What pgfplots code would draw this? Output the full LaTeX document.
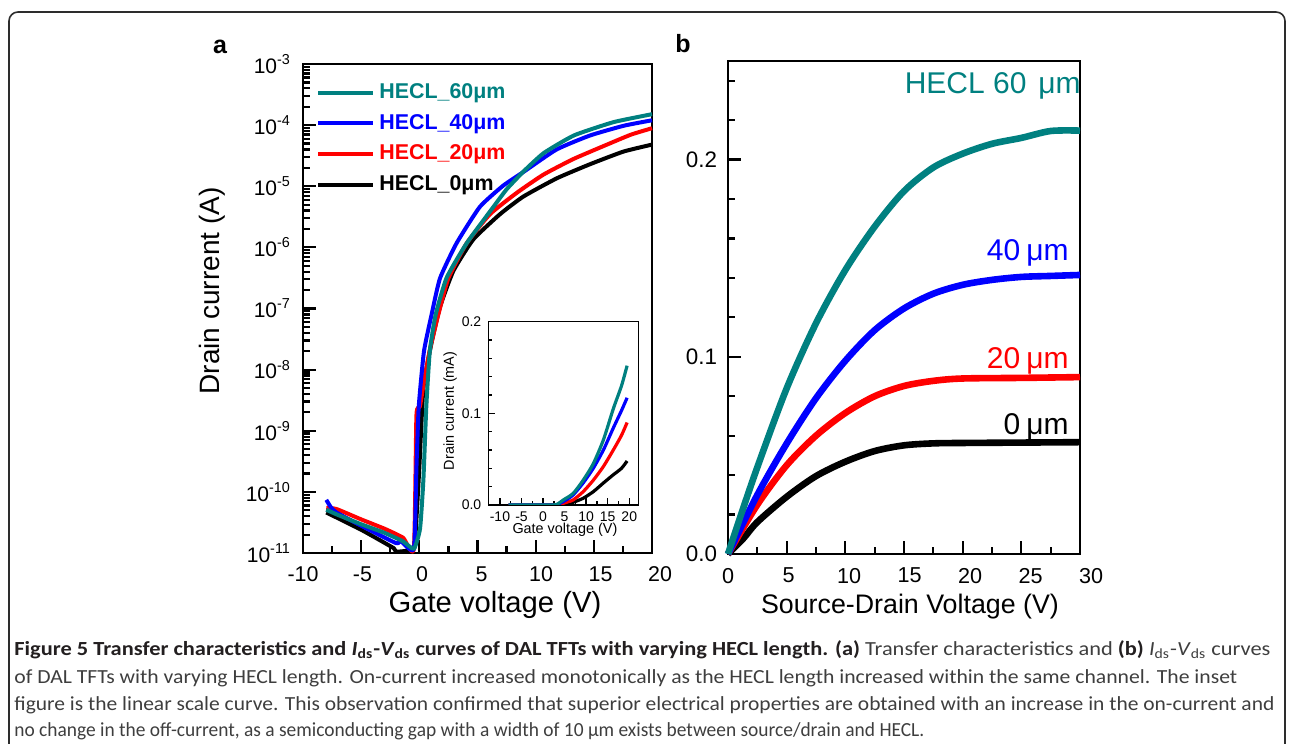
\documentclass[border=0pt]{standalone}
\usepackage{pgfplots}
\pgfplotsset{compat=1.18}
\usepackage{pgfplotstable}
\usepackage{graphicx}
\usepackage{fontspec}
\setmainfont{Liberation Sans}
\newfontfamily\capfont{Carlito}
\definecolor{hteal}{RGB}{0,128,128}
\definecolor{hblue}{RGB}{0,0,255}
\definecolor{hred}{RGB}{255,0,0}
\definecolor{capbold}{RGB}{35,31,32}
\definecolor{captext}{RGB}{62,62,62}
\definecolor{framecol}{RGB}{45,45,45}

% ---------- panel a (log) ----------
\pgfplotstableread{
x y
-8.0 5.1e-11
-7.0 4.2e-11
-5.0 2.95e-11
-3.0 2.14e-11
-1.4 1.55e-11
-0.47 1.17e-11
0.06 2.5e-11
0.35 1.6e-10
0.6 2.5e-9
0.9 2.0e-8
1.4 7.9e-8
2.35 3.2e-7
4.07 1.17e-6
6.37 4.6e-6
7.5 8.9e-6
9.0 1.78e-5
10.7 3.5e-5
13.3 6.8e-5
16.7 1.12e-4
20.0 1.51e-4
}\aTeal
\pgfplotstableread{
x y
-8.0 7.4e-11
-7.6 5.6e-11
-7.13 4.6e-11
-5.0 2.8e-11
-2.0 1.45e-11
-1.6 1.58e-11
-0.47 1.17e-11
-0.25 2.5e-10
-0.05 2.5e-9
0.4 2.0e-8
1.05 7.9e-8
1.77 3.1e-7
3.2 1.17e-6
5.2 4.6e-6
7.2 1.02e-5
9.0 1.74e-5
11.8 4.0e-5
14.7 6.8e-5
17.6 9.8e-5
20.0 1.2e-4
}\aBlue
\pgfplotstableread{
x y
-8.0 5.5e-11
-7.13 5.25e-11
-5.0 3.55e-11
-3.0 2.5e-11
-1.4 1.78e-11
-0.47 1.17e-11
-0.25 1.78e-9
0.05 2.5e-9
0.4 6.3e-9
0.9 2.1e-8
1.63 7.9e-8
2.49 3.1e-7
4.07 1.17e-6
6.08 3.5e-6
8.37 7.8e-6
10.67 1.55e-5
13.26 2.8e-5
16.13 4.8e-5
18.2 7.0e-5
20.0 8.9e-5
}\aRed
\pgfplotstableread{
x y
-8.0 4.6e-11
-5.0 2.4e-11
-2.2 1.2e-11
-2.0 1.05e-11
-0.47 1.17e-11
-0.3 2.5e-11
0.0 2.5e-10
0.35 5.0e-9
1.05 2.75e-8
1.77 1.05e-7
2.92 4.1e-7
4.64 1.35e-6
6.94 3.5e-6
8.95 6.8e-6
11.82 1.35e-5
14.69 2.3e-5
17.56 3.7e-5
20.0 4.8e-5
}\aBlack

% ---------- inset (linear, mA) ----------
\pgfplotstableread{
x y
-8 0
2 0
3.5 0.0015
4.7 0.0055
7.0 0.0127
9.3 0.027
11.65 0.045
14.0 0.071
16.3 0.105
18.2 0.13
19.5 0.152
}\iTeal
\pgfplotstableread{
x y
-8 0
2.5 0
4 0.002
5.5 0.006
7.0 0.011
9.3 0.024
11.65 0.04
14.0 0.06
16.3 0.084
18.2 0.103
19.5 0.117
}\iBlue
\pgfplotstableread{
x y
-8 0
3 0
4.5 0.0015
5.8 0.0035
7.0 0.0055
9.3 0.0145
11.65 0.027
14.0 0.042
16.3 0.06
18.2 0.076
19.5 0.09
}\iRed
\pgfplotstableread{
x y
-8 0
4 0
5.5 0.001
7.0 0.003
9.3 0.0073
11.65 0.0145
14.0 0.024
16.3 0.033
18.2 0.04
19.5 0.048
}\iBlack

% ---------- panel b ----------
\pgfplotstableread{
x y
0 0
1 0.018
2.5 0.044
5 0.084
7.5 0.117
10 0.144
12.5 0.166
15 0.184
17.5 0.196
20 0.203
22.5 0.208
25 0.211
27.5 0.2145
30 0.2147
}\bTeal
\pgfplotstableread{
x y
0 0
2.5 0.030
5 0.056
7.5 0.079
10 0.098
12.5 0.1135
15 0.1245
17.5 0.132
20 0.1365
22.5 0.139
25 0.1405
27.5 0.141
30 0.1415
}\bBlue
\pgfplotstableread{
x y
0 0
2.5 0.025
5 0.045
7.5 0.060
10 0.0715
12.5 0.0800
15 0.0852
17.5 0.0878
20 0.089
25 0.0893
30 0.0897
}\bRed
\pgfplotstableread{
x y
0 0
1.3 0.0078
2.5 0.0162
5 0.029
7.5 0.0395
10 0.0468
12.5 0.0522
15 0.0551
17.5 0.0561
20 0.0563
25 0.0565
30 0.0567
}\bBlack

\newcommand{\tenpow}[1]{10\raisebox{0.42em}{\fontsize{7.2bp}{8bp}\selectfont #1}}

\begin{document}
\begin{tikzpicture}
\useasboundingbox (0,0) rectangle (646bp,372bp);
\draw[framecol, line width=0.8bp, rounded corners=4.5bp] (4.5bp,-3bp) -- (4.5bp,366bp) -- (642.5bp,366bp) -- (642.5bp,-3bp);

% panel labels
\node[anchor=base, inner sep=0pt, font=\fontsize{12.5bp}{14bp}\selectfont\bfseries] at (110bp,345bp) {a};
\node[anchor=base, inner sep=0pt, font=\fontsize{12.5bp}{14bp}\selectfont\bfseries] at (341.5bp,345.5bp) {b};

% ================= panel a =================
\begin{axis}[
  at={(151.5bp,95.5bp)}, anchor=south west,
  width=174.5bp, height=244.5bp, scale only axis,
  ymode=log, xmin=-10, xmax=20, ymin=1e-11, ymax=1e-3,
  axis line style={line width=1.3bp},
  xtick={-10,-5,0,5,10,15,20}, xticklabels={-10,-5,0,5,10,15,20},
  minor xtick={-7.5,-2.5,2.5,7.5,12.5,17.5},
  ytick={1e-11,1e-10,1e-9,1e-8,1e-7,1e-6,1e-5,1e-4,1e-3},
  yticklabels={\tenpow{-11},\tenpow{-10},\tenpow{-9},\tenpow{-8},\tenpow{-7},\tenpow{-6},\tenpow{-5},\tenpow{-4},\tenpow{-3}},
  minor ytick={2e-11,3e-11,4e-11,5e-11,6e-11,7e-11,8e-11,9e-11,
               2e-10,3e-10,4e-10,5e-10,6e-10,7e-10,8e-10,9e-10,
               2e-9,3e-9,4e-9,5e-9,6e-9,7e-9,8e-9,9e-9,
               2e-8,3e-8,4e-8,5e-8,6e-8,7e-8,8e-8,9e-8,
               2e-7,3e-7,4e-7,5e-7,6e-7,7e-7,8e-7,9e-7,
               2e-6,3e-6,4e-6,5e-6,6e-6,7e-6,8e-6,9e-6,
               2e-5,3e-5,4e-5,5e-5,6e-5,7e-5,8e-5,9e-5,
               2e-4,3e-4,4e-4,5e-4,6e-4,7e-4,8e-4,9e-4},
  tick align=inside, xtick pos=bottom, ytick pos=left,
  major tick length=6.5bp, minor tick length=3.5bp,
  tick style={black, line width=1.1bp},
  xticklabel style={font=\fontsize{10.7bp}{12bp}\selectfont, yshift=-3.5bp, xshift=0.67bp*\ticknum},
  yticklabel style={font=\fontsize{10.5bp}{12bp}\selectfont, xshift=-3bp},
  xlabel={Gate voltage (V)}, ylabel={Drain current (A)},
  every axis x label/.style={at={(axis description cs:0.55,-0.106)}, anchor=center, font=\fontsize{14.6bp}{16bp}\selectfont},
  every axis y label/.style={at={(axis description cs:-0.261,0.536)}, anchor=center, rotate=90, font=\fontsize{14bp}{16bp}\selectfont},
  legend style={at={(axis description cs:0.02,0.971)}, anchor=north west, draw=none, fill=none,
    font=\fontsize{10.7bp}{12bp}\selectfont\bfseries, row sep=5.0bp,
    nodes={inner sep=0pt, text height=8bp, text depth=2.3bp}, cells={anchor=west}},
  legend image code/.code={\draw[#1, line width=2bp] (0bp,0bp) -- (27.5bp,0bp); \path (29.5bp,0bp);},
  reverse legend,
  every axis plot/.append style={line width=2bp, line join=round, smooth, tension=0.3},
  clip=false,
]
\addplot[black] table {\aBlack};
\addlegendentry{\textcolor{black}{HECL\_0μm}}
\addplot[hred] table {\aRed};
\addlegendentry{\textcolor{hred}{HECL\_20μm}}
\addplot[hblue] table {\aBlue};
\addlegendentry{\textcolor{hblue}{HECL\_40μm}}
\addplot[hteal] table {\aTeal};
\addlegendentry{\textcolor{hteal}{HECL\_60μm}}
\end{axis}

% ================= inset =================
\begin{axis}[
  at={(244.15bp,119.5bp)}, anchor=south west,
  width=75bp, height=91.65bp, scale only axis,
  xmin=-12.7, xmax=22.1, ymin=0, ymax=0.2,
  axis line style={line width=0.8bp},
  xtick={-10,-5,0,5,10,15,20}, xticklabels={-10,-5,0,5,10,15,20},
  minor xtick={-7.5,-2.5,2.5,7.5,12.5,17.5},
  ytick={0,0.1,0.2}, yticklabels={0.0,0.1,0.2},
  minor ytick={0.02,0.04,0.06,0.08,0.12,0.14,0.16,0.18},
  tick align=inside, xtick pos=bottom, ytick pos=left,
  major tick length=3.5bp, minor tick length=2bp,
  tick style={black, line width=0.7bp},
  xticklabel style={font=\fontsize{7bp}{8bp}\selectfont},
  yticklabel style={font=\fontsize{7bp}{8bp}\selectfont},
  xlabel={Gate voltage (V)}, ylabel={Drain current (mA)},
  every axis x label/.style={at={(axis description cs:0.511,-0.136)}, anchor=center, font=\fontsize{7.2bp}{8bp}\selectfont},
  every axis y label/.style={at={(axis description cs:-0.255,0.513)}, anchor=center, rotate=90, font=\fontsize{7.2bp}{8bp}\selectfont},
  every axis plot/.append style={line width=1.6bp, line join=round, smooth, tension=0.4},
]
\addplot[black] table {\iBlack};
\addplot[hred] table {\iRed};
\addplot[hblue] table {\iBlue};
\addplot[hteal] table {\iTeal};
\end{axis}

% ================= panel b =================
\begin{axis}[
  at={(364bp,95bp)}, anchor=south west,
  width=176bp, height=246.5bp, scale only axis,
  xmin=0, xmax=30, ymin=0, ymax=0.25,
  axis line style={line width=1.3bp},
  xtick={0,5,10,15,20,25,30}, xticklabels={0,5,10,15,20,25,30},
  minor xtick={2.5,7.5,12.5,17.5,22.5,27.5},
  ytick={0,0.1,0.2}, yticklabels={0.0,0.1,0.2},
  minor ytick={0.02,0.04,0.06,0.08,0.12,0.14,0.16,0.18,0.22,0.24},
  tick align=inside, xtick pos=bottom, ytick pos=left,
  major tick length=6.5bp, minor tick length=3.5bp,
  tick style={black, line width=1.1bp},
  xticklabel style={font=\fontsize{10.8bp}{12bp}\selectfont, yshift=-3.5bp, xshift=0.92bp*\ticknum},
  yticklabel style={font=\fontsize{11.2bp}{12bp}\selectfont, xshift=-2bp},
  xlabel={Source-Drain Voltage (V)},
  every axis x label/.style={at={(axis description cs:0.517,-0.1075)}, anchor=center, font=\fontsize{13.4bp}{16bp}\selectfont},
  every axis plot/.append style={line width=3.3bp, line join=round, smooth, tension=0.5},
  clip=false,
]
\addplot[black] table {\bBlack};
\addplot[hred] table {\bRed};
\addplot[hblue] table {\bBlue};
\addplot[hteal] table {\bTeal};
\node[anchor=base east, inner sep=0pt, text=hteal, font=\fontsize{15bp}{18bp}\selectfont] at (axis cs:30.1,0.2335) {HECL 60\hspace{6bp}μm};
\node[anchor=base east, inner sep=0pt, text=hblue, font=\fontsize{15bp}{18bp}\selectfont] at (axis cs:29.06,0.1486) {40\hspace{3bp}μm};
\node[anchor=base east, inner sep=0pt, text=hred, font=\fontsize{15bp}{18bp}\selectfont] at (axis cs:29.06,0.0943) {20\hspace{3bp}μm};
\node[anchor=base east, inner sep=0pt, text=black, font=\fontsize{15bp}{18bp}\selectfont] at (axis cs:29.06,0.0608) {0\hspace{3bp}μm};
\end{axis}

% ================= caption =================
\begin{scope}[every node/.style={anchor=base west, inner sep=0pt}]
\node at (7bp,44bp) {\resizebox{628bp}{\height}{\capfont\fontsize{10bp}{12bp}\selectfont\color{capbold}\textbf{Figure 5 Transfer characteristics and \textit{I}\textsubscript{ds}-\textit{V}\textsubscript{ds} curves of DAL TFTs with varying HECL length. (a)} \color{captext}Transfer characteristics and \color{capbold}\textbf{(b)} \color{captext}\textit{I}\textsubscript{ds}-\textit{V}\textsubscript{ds} curves}};
\node at (7bp,30.5bp) {\resizebox{611.5bp}{\height}{\capfont\fontsize{10bp}{12bp}\selectfont\color{captext}of DAL TFTs with varying HECL length. On-current increased monotonically as the HECL length increased within the same channel. The inset}};
\node at (7bp,17bp) {\resizebox{630bp}{\height}{\capfont\fontsize{10bp}{12bp}\selectfont\color{captext}figure is the linear scale curve. This observation confirmed that superior electrical properties are obtained with an increase in the on-current and}};
\node at (7bp,4bp) {\resizebox{455bp}{\height}{\capfont\fontsize{10bp}{12bp}\selectfont\color{captext}no change in the off-current, as a semiconducting gap with a width of 10 μm exists between source/drain and HECL.}};
\end{scope}
\end{tikzpicture}
\end{document}
